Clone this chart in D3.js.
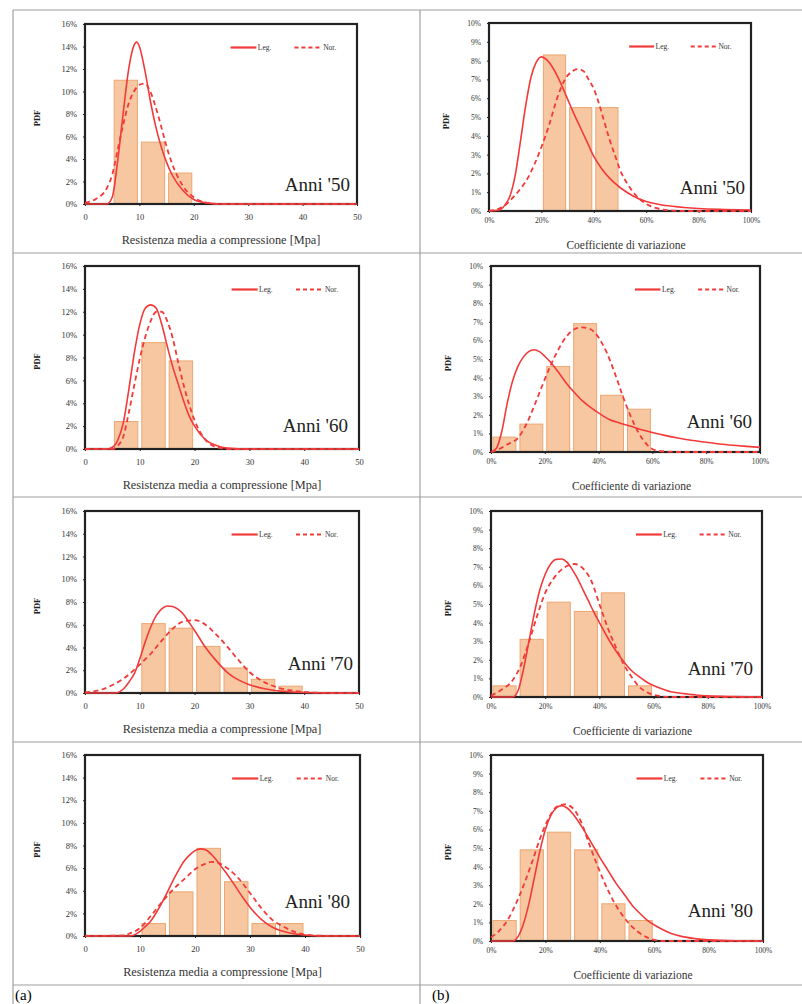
<!DOCTYPE html>
<html lang="it">
<head>
<meta charset="UTF-8">
<title>PDF - resistenza media e coefficiente di variazione</title>
<script src="https://cdn.jsdelivr.net/npm/d3@7"></script>
<style>
  body { margin: 0; background: #fff; }
  svg { display: block; font-family: "Liberation Serif", "DejaVu Serif", serif; }
</style>
</head>
<body>
<svg width="802" height="1004"></svg>
<script>
// ---- dati ----
var decades = ["Anni '50", "Anni '60", "Anni '70", "Anni '80"];

var resTicks = [0, 10, 20, 30, 40, 50];
var resPdfTicks = [0, 2, 4, 6, 8, 10, 12, 14, 16];
var cvTicks = [0, 20, 40, 60, 80, 100];
var cvPdfTicks = [0, 1, 2, 3, 4, 5, 6, 7, 8, 9, 10];

// istogrammi: [inizio classe, PDF %]
var resBars50 = [[5, 11.0], [10, 5.5], [15, 2.75]];
var resBars60 = [[5, 2.4], [10, 9.3], [15, 7.7]];
var resBars70 = [[10, 6.1], [15, 5.7], [20, 4.1], [25, 2.2], [30, 1.2], [35, 0.6]];
var resBars80 = [[10, 1.1], [15, 3.9], [20, 7.75], [25, 4.8], [30, 1.1], [35, 1.1]];

var cvBars50 = [[20, 8.3], [30, 5.5], [40, 5.5]];
var cvBars60 = [[0, 0.8], [10, 1.5], [20, 4.6], [30, 6.9], [40, 3.05], [50, 2.3]];
var cvBars70 = [[0, 0.6], [10, 3.1], [20, 5.1], [30, 4.6], [40, 5.6], [50, 0.6]];
var cvBars80 = [[0, 1.1], [10, 4.9], [20, 5.85], [30, 4.9], [40, 2.0], [50, 1.1]];

// curve lognormale (Log.) e normale (Nor.): [x, PDF %]
var resLog50 = [[0,0],[4,0],[5,0.6],[6,3.8],[7,8.0],[8,11.9],[9,14.1],[9.5,14.4],[10,14.0],[11,11.9],[12,9.2],[13,6.9],[14,5.1],[15,3.7],[16,2.6],[18,1.2],[20,0.4],[22,0.12],[25,0],[50,0]];
var resNor50 = [[0,0.1],[2,0.45],[4,1.4],[5,2.6],[6,4.8],[7,7.0],[8,8.9],[9,10.0],[10,10.6],[11,10.7],[12,10.0],[13,8.6],[14,6.9],[15,5.1],[16,3.6],[18,1.6],[20,0.6],[22,0.15],[25,0],[50,0]];
var resLog60 = [[0,0],[4,0],[5,0.15],[6,0.8],[7,2.3],[8,5.2],[9,8.4],[10,10.9],[11,12.3],[12,12.6],[13,12.3],[14,10.9],[15,9.0],[16,7.2],[17,5.7],[18,4.2],[19,2.9],[20,2.0],[22,0.8],[24,0.3],[26,0.08],[30,0],[50,0]];
var resNor60 = [[0,0],[5,0],[6,0.3],[7,1.1],[8,3.2],[9,5.6],[10,7.9],[11,9.8],[12,11.2],[13,12.0],[14,12.0],[15,11.2],[16,9.7],[17,7.6],[18,5.6],[19,3.9],[20,2.5],[22,0.8],[24,0.15],[26,0],[50,0]];
var resLog70 = [[0,0],[5,0],[6,0.05],[7,0.35],[8,0.95],[9,1.7],[10,3.0],[11,4.5],[12,5.8],[13,6.8],[14,7.4],[15,7.65],[16,7.6],[17,7.35],[18,6.9],[19,6.2],[20,5.5],[22,4.0],[24,2.8],[26,1.8],[28,1.15],[30,0.73],[33,0.35],[36,0.15],[40,0.04],[45,0],[50,0]];
var resNor70 = [[0,0.05],[3,0.3],[5,0.7],[7,1.25],[9,2.05],[10,2.5],[12,3.45],[14,4.6],[16,5.65],[18,6.3],[20,6.4],[22,6.0],[24,5.1],[26,4.05],[28,2.9],[30,1.85],[32,1.15],[35,0.5],[38,0.2],[42,0.03],[45,0],[50,0]];
var resLog80 = [[0,0],[8,0],[9,0.1],[10,0.4],[11,0.85],[12,1.35],[13,2.1],[14,2.95],[15,3.9],[16,4.9],[17,5.8],[18,6.6],[19,7.15],[20,7.55],[21,7.7],[22,7.6],[23,7.2],[24,6.65],[25,6.0],[26,5.35],[27,4.65],[28,3.9],[29,3.2],[30,2.55],[32,1.5],[34,0.8],[36,0.42],[38,0.2],[41,0.05],[45,0],[50,0]];
var resNor80 = [[0,0],[7,0.05],[8,0.2],[10,0.7],[12,1.8],[14,3.0],[16,4.1],[18,5.0],[20,5.9],[22,6.4],[23,6.55],[24,6.5],[26,5.95],[28,5.05],[30,3.8],[32,2.5],[34,1.45],[36,0.85],[38,0.38],[40,0.12],[43,0.02],[50,0]];

var cvLog50 = [[0,0],[4,0.05],[6,0.3],[8,0.8],[10,1.9],[12,3.7],[14,5.6],[16,7.1],[18,7.9],[20,8.2],[22,8.05],[24,7.7],[26,7.2],[28,6.6],[30,5.95],[32,5.3],[35,4.4],[38,3.5],[40,2.9],[43,2.25],[46,1.75],[50,1.25],[55,0.8],[60,0.5],[65,0.35],[70,0.25],[80,0.13],[90,0.08],[100,0.05]];
var cvNor50 = [[0,0],[5,0.2],[10,0.85],[15,1.8],[20,3.4],[23,4.6],[26,6.0],[29,7.0],[32,7.45],[34,7.55],[36,7.45],[38,7.0],[40,6.5],[42,5.7],[44,4.75],[46,3.8],[48,3.0],[50,2.2],[53,1.4],[56,0.85],[60,0.38],[64,0.15],[68,0.05],[75,0],[100,0]];
var cvLog60 = [[0,0],[2,0.2],[4,1.1],[6,2.6],[8,3.8],[10,4.6],[12,5.1],[14,5.4],[16,5.5],[18,5.4],[20,5.15],[22,4.85],[25,4.3],[28,3.7],[31,3.2],[34,2.75],[37,2.4],[40,2.1],[44,1.75],[48,1.55],[52,1.38],[56,1.2],[60,1.05],[65,0.88],[70,0.74],[75,0.62],[80,0.52],[85,0.43],[90,0.36],[95,0.3],[100,0.25]];
var cvNor60 = [[0,0],[3,0.15],[6,0.4],[10,0.75],[13,1.45],[16,2.45],[19,3.55],[22,4.6],[25,5.5],[28,6.2],[31,6.6],[34,6.7],[37,6.6],[40,6.15],[43,5.35],[46,4.25],[49,3.0],[52,1.9],[55,1.0],[58,0.4],[61,0.1],[65,0.02],[70,0],[100,0]];
var cvLog70 = [[0,0],[8,0],[10,0.35],[12,1.5],[14,3.0],[16,4.5],[18,5.75],[20,6.6],[22,7.15],[24,7.4],[26,7.42],[28,7.25],[30,6.85],[32,6.35],[34,5.75],[36,5.15],[38,4.55],[40,4.0],[43,3.2],[46,2.5],[49,1.9],[52,1.4],[55,1.05],[58,0.75],[62,0.5],[66,0.3],[70,0.2],[75,0.12],[80,0.06],[90,0.02],[100,0]];
var cvNor70 = [[0,0.08],[4,0.4],[8,0.9],[11,1.7],[14,2.95],[17,4.35],[20,5.6],[23,6.35],[26,6.85],[29,7.1],[31,7.15],[34,6.9],[37,6.25],[40,5.0],[43,3.75],[46,2.7],[49,1.75],[52,1.05],[55,0.5],[58,0.22],[62,0.06],[66,0],[100,0]];
var cvLog80 = [[0,0],[8,0],[10,0.25],[12,0.95],[14,2.05],[16,3.45],[18,4.85],[20,6.0],[22,6.75],[24,7.15],[26,7.28],[28,7.15],[30,6.85],[32,6.45],[34,6.0],[36,5.5],[38,5.0],[40,4.5],[43,3.8],[46,3.1],[49,2.5],[52,1.9],[55,1.45],[58,1.05],[62,0.7],[66,0.42],[70,0.25],[75,0.13],[80,0.06],[90,0.01],[100,0]];
var cvNor80 = [[0,0.2],[3,0.55],[6,1.1],[9,1.95],[12,3.0],[15,4.2],[18,5.5],[21,6.55],[24,7.2],[27,7.35],[30,7.15],[33,6.45],[36,5.25],[39,4.1],[42,3.05],[45,2.15],[48,1.45],[51,0.9],[54,0.5],[57,0.22],[60,0.06],[64,0],[100,0]];

// ---- disegno ----
var svg = d3.select('svg');
var RED = '#f23a3a';

// griglia della tabella
var hLines = [10, 253, 497, 742, 985];
var vLines = [13, 420];
svg.selectAll('line.h').data(hLines).enter().append('line')
    .attr('x1', 13).attr('x2', 802).attr('y1', d => d).attr('y2', d => d)
    .attr('stroke', '#a0a0a0').attr('stroke-width', 1.2);
svg.selectAll('line.v').data(vLines).enter().append('line')
    .attr('x1', d => d).attr('x2', d => d).attr('y1', 10).attr('y2', 1004)
    .attr('stroke', '#a0a0a0').attr('stroke-width', 1.2);

svg.append('text').attr('x', 15).attr('y', 1000).attr('font-size', 15).text('(a)');
svg.append('text').attr('x', 432).attr('y', 1000).attr('font-size', 15).text('(b)');

function panel(o) {
    var x = d3.scaleLinear().domain([o.xTicks[0], o.xTicks[o.xTicks.length - 1]]).range([o.left, o.right]);
    var y = d3.scaleLinear().domain([0, o.yTicks[o.yTicks.length - 1]]).range([o.bottom, o.top]);
    var g = svg.append('g');

    // barre
    g.selectAll('rect.bar').data(o.bars).enter().append('rect')
        .attr('x', d => x(d[0]) + 2)
        .attr('width', d => x(d[0] + o.binW) - x(d[0]) - 4)
        .attr('y', d => y(d[1]))
        .attr('height', d => y(0) - y(d[1]))
        .attr('fill', '#f6c7a0')
        .attr('stroke', '#eba772')
        .attr('stroke-width', 1);

    // cornice
    g.append('rect')
        .attr('x', o.left).attr('y', o.top)
        .attr('width', o.right - o.left).attr('height', o.bottom - o.top)
        .attr('fill', 'none').attr('stroke', '#222').attr('stroke-width', 2.2);

    // assi
    var ax = g.append('g').attr('transform', 'translate(0,' + o.bottom + ')')
        .call(d3.axisBottom(x).tickValues(o.xTicks).tickSize(2).tickPadding(o.xPad).tickFormat(o.fmtX));
    var ay = g.append('g').attr('transform', 'translate(' + o.left + ',0)')
        .call(d3.axisLeft(y).tickValues(o.yTicks).tickSize(2).tickPadding(6).tickFormat(d => d + '%'));
    [ax, ay].forEach(function (a) {
        a.select('.domain').remove();
        a.selectAll('line').attr('stroke', '#222');
        a.selectAll('text').attr('font-size', o.tickFs).attr('fill', '#333')
            .attr('font-family', '"Liberation Serif", serif');
    });

    // curve
    var line = d3.line().x(d => x(d[0])).y(d => y(d[1])).curve(d3.curveMonotoneX);
    g.append('path').datum(o.log).attr('d', line)
        .attr('fill', 'none').attr('stroke', RED).attr('stroke-width', 1.6);
    g.append('path').datum(o.nor).attr('d', line)
        .attr('fill', 'none').attr('stroke', RED).attr('stroke-width', 1.8)
        .attr('stroke-dasharray', '5,3.5');

    // legenda
    var w = o.right - o.left, ly = o.top + 23.5;
    var leg = [
        { name: 'Leg.', a: 0.535, b: 0.63, dash: null },
        { name: 'Nor.', a: 0.77, b: 0.87, dash: '4,3' }
    ];
    leg.forEach(function (l) {
        g.append('line')
            .attr('x1', o.left + w * l.a).attr('x2', o.left + w * l.b)
            .attr('y1', ly).attr('y2', ly)
            .attr('stroke', RED).attr('stroke-width', 2.2)
            .attr('stroke-dasharray', l.dash);
        g.append('text')
            .attr('x', o.left + w * l.b + 1.5).attr('y', ly + 2.5)
            .attr('font-size', 7.5).attr('fill', '#333').text(l.name);
    });

    // etichetta decennio
    g.append('text')
        .attr('x', o.right + o.labDx).attr('y', o.bottom + o.labDy)
        .attr('text-anchor', 'end').attr('font-size', 19).attr('fill', '#222')
        .text(o.label);

    // titoli assi
    g.append('text')
        .attr('transform', 'translate(' + (o.left - o.pdfDx) + ',' + ((o.top + o.bottom) / 2 + 4) + ') rotate(-90)')
        .attr('text-anchor', 'middle').attr('font-size', 8.5).attr('font-weight', 'bold')
        .attr('fill', '#222').text('PDF');
    g.append('text')
        .attr('x', (o.left + o.right) / 2 + o.titleDx).attr('y', o.bottom + o.titleDy)
        .attr('text-anchor', 'middle').attr('font-size', o.titleFs).attr('fill', '#333')
        .text(o.title);
}

// pannelli (a): resistenza media
var resBars = [resBars50, resBars60, resBars70, resBars80];
var resLog = [resLog50, resLog60, resLog70, resLog80];
var resNor = [resNor50, resNor60, resNor70, resNor80];
var frameA = [
    { top: 24, bottom: 204, right: 357, labDx: -7, labDy: -13 },
    { top: 266, bottom: 449, right: 359, labDx: -11, labDy: -17 },
    { top: 511, bottom: 693, right: 359, labDx: -6, labDy: -23 },
    { top: 755, bottom: 936, right: 360, labDx: -10, labDy: -28 }
];
frameA.forEach(function (f, i) {
    panel({
        left: 85, right: f.right, top: f.top, bottom: f.bottom,
        xTicks: resTicks, yTicks: resPdfTicks, binW: 5, fmtX: d => d,
        bars: resBars[i], log: resLog[i], nor: resNor[i],
        label: decades[i], labDx: f.labDx, labDy: f.labDy,
        tickFs: 8.5, xPad: 8, pdfDx: 45,
        title: 'Resistenza media a compressione [Mpa]', titleFs: 12.3, titleDx: 0, titleDy: 40
    });
});

// pannelli (b): coefficiente di variazione
var cvBars = [cvBars50, cvBars60, cvBars70, cvBars80];
var cvLog = [cvLog50, cvLog60, cvLog70, cvLog80];
var cvNor = [cvNor50, cvNor60, cvNor70, cvNor80];
var frameB = [
    { left: 489, top: 23, bottom: 211, right: 751, labDx: -6, labDy: -17 },
    { left: 491, top: 266, bottom: 452, right: 760, labDx: -8, labDy: -24 },
    { left: 491, top: 511, bottom: 697, right: 762, labDx: -9, labDy: -22 },
    { left: 491, top: 755, bottom: 941, right: 763, labDx: -10, labDy: -24 }
];
frameB.forEach(function (f, i) {
    panel({
        left: f.left, right: f.right, top: f.top, bottom: f.bottom,
        xTicks: cvTicks, yTicks: cvPdfTicks, binW: 10, fmtX: d => d + '%',
        bars: cvBars[i], log: cvLog[i], nor: cvNor[i],
        label: decades[i], labDx: f.labDx, labDy: f.labDy,
        tickFs: 7.5, xPad: 5, pdfDx: 40,
        title: 'Coefficiente di variazione', titleFs: 11.5, titleDx: 6, titleDy: 38
    });
});
</script>
</body>
</html>
